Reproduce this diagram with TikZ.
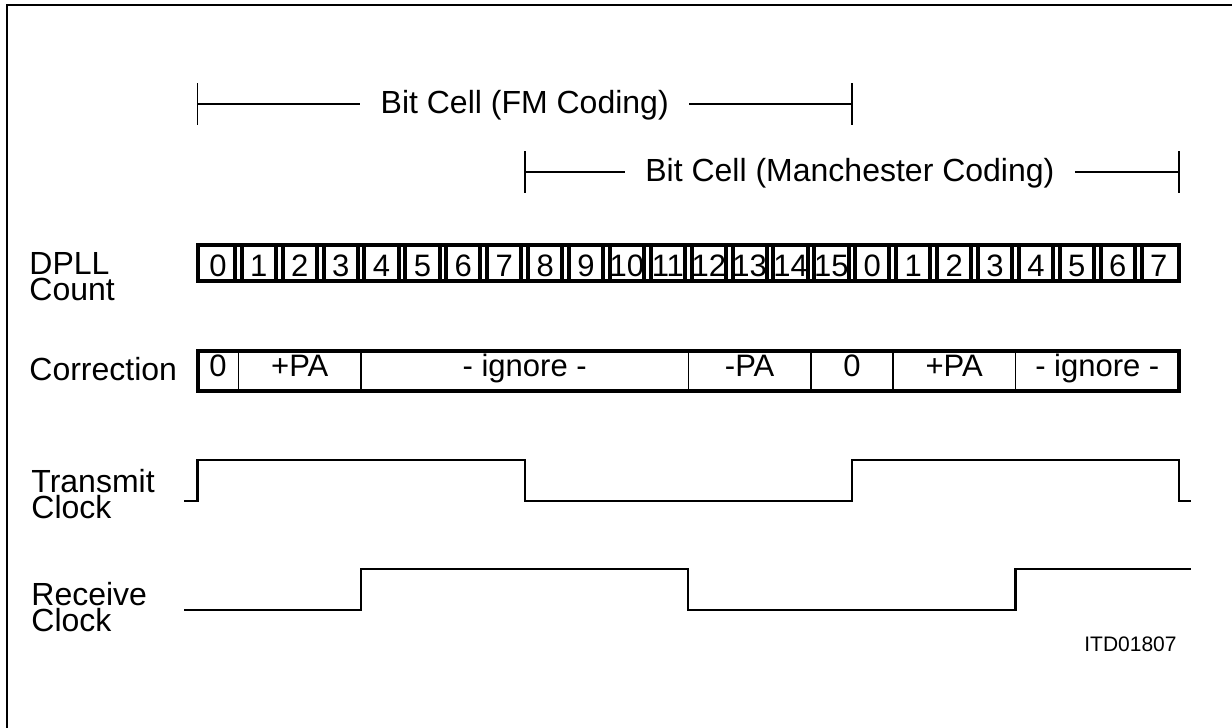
\documentclass[tikz,border=0pt]{standalone}
\usepackage{fontspec}
\setmainfont{Liberation Sans}
\begin{document}
\begin{tikzpicture}[x=0.5pt,y=-0.5pt,
  lbl/.style={font=\fontsize{16}{13}\selectfont,inner sep=0pt,align=left},
  num/.style={font=\fontsize{15.5}{18}\selectfont,inner sep=0pt,anchor=base},
  span/.style={font=\fontsize{16}{18}\selectfont,inner ysep=0pt,inner xsep=10pt,anchor=base},
  heavy/.style={line width=2pt},
  thin divider/.style={line width=0.75pt},
  dim line/.style={line width=0.85pt},
  wave/.style={line width=1.1pt,line join=miter},
  frame line/.style={line width=1pt}
]
\useasboundingbox (0,0) rectangle (1232,728);
\def\xo{197.5}
\def\cw{40.9}
% frame (top and left)
\draw[frame line] (7,728) -- (7,5) -- (1232,5);

% Bit cell (FM)
\coordinate (fmL) at (\xo,104);
\coordinate (fmR) at (\xo+16*\cw,104);
\node[span] (fmT) at (\xo+8*\cw,113) {Bit Cell (FM Coding)};
\draw[dim line] (fmL) -- (fmL -| fmT.west);
\draw[dim line] (fmR -| fmT.east) -- (fmR);
\draw[dim line] ([yshift=10.5pt]fmL) -- ([yshift=-10.5pt]fmL);
\draw[dim line] ([yshift=10.5pt]fmR) -- ([yshift=-10.5pt]fmR);

% Bit cell (Manchester)
\coordinate (mcL) at (\xo+8*\cw,172);
\coordinate (mcR) at (\xo+24*\cw,172);
\node[span] (mcT) at (\xo+16*\cw-2,181) {Bit Cell (Manchester Coding)};
\draw[dim line] (mcL) -- (mcL -| mcT.west);
\draw[dim line] (mcR -| mcT.east) -- (mcR);
\draw[dim line] ([yshift=10.5pt]mcL) -- ([yshift=-10.5pt]mcL);
\draw[dim line] ([yshift=10.5pt]mcR) -- ([yshift=-10.5pt]mcR);

% DPLL count
\node[lbl,anchor=north west] (dpllL) at (29,252) {DPLL\\Count};
\draw[heavy] (\xo,245) rectangle (\xo+24*\cw,281);
\foreach \i in {1,...,23} {
  \pgfmathsetmacro\bx{\xo+\i*\cw}
  \draw[heavy] (\bx-3.35,245) -- (\bx-3.35,281) (\bx+3.35,245) -- (\bx+3.35,281);
}
\foreach \t [count=\i from 0] in {0,1,2,3,4,5,6,7,8,9,10,11,12,13,14,15,0,1,2,3,4,5,6,7} {
  \pgfmathsetmacro\cx{\xo+(\i+0.5)*\cw}
  \node[num] (d\i) at (\cx,276) {\t};
}

% Correction
\node[lbl,anchor=base west] (corrL) at (29,380) {Correction};
\draw[heavy] (\xo,351) rectangle (\xo+24*\cw,391);
\foreach \k in {1,4,12,15,17,20} {
  \draw[thin divider] (\xo+\k*\cw,351) -- (\xo+\k*\cw,391);
}
\foreach \a/\b/\t [count=\i] in {0/1/0,1/4/+PA,4/12/- ignore -,12/15/-PA,15/17/0,17/20/+PA,20/24/- ignore -} {
  \pgfmathsetmacro\cx{\xo+(\a+\b)/2*\cw}
  \node[num] (r\i) at (\cx,376) {\t};
}

% Transmit clock
\node[lbl,anchor=north west] (txL) at (31,469) {Transmit\\Clock};
\draw[wave] (184,501) -- (\xo,501) -- (\xo,460) -- (\xo+8*\cw,460) -- (\xo+8*\cw,501)
  -- (\xo+16*\cw,501) -- (\xo+16*\cw,460) -- (\xo+24*\cw,460) -- (\xo+24*\cw,501) -- (1191,501);

% Receive clock
\node[lbl,anchor=north west] (rxL) at (31,582) {Receive\\Clock};
\draw[wave] (184,610) -- (\xo+4*\cw,610) -- (\xo+4*\cw,569) -- (\xo+12*\cw,569) -- (\xo+12*\cw,610)
  -- (\xo+20*\cw,610) -- (\xo+20*\cw,569) -- (1191,569);

% figure id
\node[font=\fontsize{10.5}{12}\selectfont,inner sep=0pt,anchor=base east] (fid) at (1177,651) {ITD01807};
\end{tikzpicture}
\end{document}
